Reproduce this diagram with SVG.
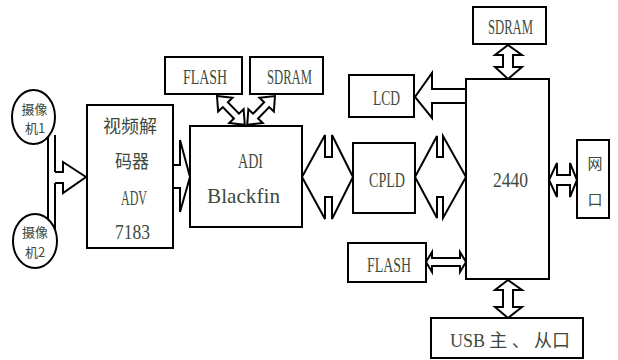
<svg xmlns="http://www.w3.org/2000/svg" width="618" height="360" viewBox="0 0 618 360">
<style>
.box{fill:#fff;stroke:#000;stroke-width:2}
.cam{fill:#fff;stroke:#000;stroke-width:2}
.ar{fill:#fff;stroke:#000;stroke-width:2;stroke-linejoin:miter}
.ln{fill:none;stroke:#000;stroke-width:2}
.lat{font-family:"Liberation Serif","DejaVu Serif",serif;font-size:21px;fill:#3d4a3d}
.cjk{font-family:"Noto Sans CJK SC","Noto Sans",sans-serif;fill:#3d4a3d}
.mix{font-family:"Liberation Serif","Noto Sans CJK SC",serif;font-size:18px;fill:#3d4a3d}
</style>
<defs>
<polygon id="dbl" points="0,0 12,-10 12,-3.5 28,-3.5 28,-10 40,0 28,10 28,3.5 12,3.5 12,10"/>
</defs>
<rect width="618" height="360" fill="#fff"/>
<g id="connectors">
<line class="ln" x1="48" y1="135" x2="48" y2="232"/>
<line class="ln" x1="55" y1="135" x2="55" y2="172"/>
<line class="ln" x1="55" y1="183" x2="55" y2="232"/>
<polyline class="ar" points="55,172 63,172 63,162 86,177 63,193 63,183 55,183"/>
<polyline class="ar" points="173,165 180,165 180,140 190,177 180,212 180,188 173,188"/>
<use href="#dbl" class="ar" transform="translate(217,96) rotate(46)"/>
<use href="#dbl" class="ar" transform="translate(275,96) rotate(134)"/>
<polygon class="ar" points="302,177 325,135 325,157 332,157 332,135 353,177 332,219 332,197 325,197 325,219"/>
<polygon class="ar" points="415,177 437,136 437,157 443,157 443,136 466,177 443,218 443,197 437,197 437,218"/>
<polyline class="ar" points="466,89 432,89 432,73 415,97 432,118 432,103 466,103"/>
<polygon class="ar" points="508,45 522,55 513,55 513,67 522,67 508,79 495,67 503,67 503,55 495,55"/>
<polygon class="ar" points="508,280 522,290 513,290 513,307 522,307 508,318 495,307 503,307 503,290 495,290"/>
<polygon class="ar" points="426,262 432,252 432,258 460,258 460,252 466,262 460,272 460,266 432,266 432,272"/>
<polygon class="ar" points="549,180 557,163 557,175 570,175 570,163 577,180 570,197 570,185 557,185 557,197"/>
</g>
<g id="cam1">
<ellipse class="cam" cx="33.5" cy="117" rx="21.5" ry="27"/>
<text class="cjk" x="34.5" y="114" font-size="13" text-anchor="middle">摄像</text>
<text class="cjk" x="35" y="133" font-size="13" text-anchor="middle">机1</text>
</g>
<g id="cam2">
<ellipse class="cam" cx="35" cy="241" rx="22" ry="27"/>
<text class="cjk" x="35" y="237" font-size="13" text-anchor="middle">摄像</text>
<text class="cjk" x="35" y="257" font-size="13" text-anchor="middle">机2</text>
</g>
<g id="decoder">
<rect class="box" x="87" y="105" width="86" height="143"/>
<text class="cjk" x="103" y="133" font-size="18" textLength="54" lengthAdjust="spacingAndGlyphs">视频解</text>
<text class="cjk" x="115" y="168" font-size="18" textLength="34" lengthAdjust="spacingAndGlyphs">码器</text>
<text class="lat" x="121" y="205" textLength="26" lengthAdjust="spacingAndGlyphs">ADV</text>
<text class="lat" x="115" y="239" textLength="35" lengthAdjust="spacingAndGlyphs">7183</text>
</g>
<g id="flash1">
<rect class="box" x="165" y="57" width="77" height="37"/>
<text class="lat" x="183" y="84" textLength="44" lengthAdjust="spacingAndGlyphs">FLASH</text>
</g>
<g id="sdram1">
<rect class="box" x="250" y="57" width="73" height="37"/>
<text class="lat" x="267" y="84" textLength="45" lengthAdjust="spacingAndGlyphs">SDRAM</text>
</g>
<g id="adi">
<rect class="box" x="190" y="126" width="112" height="101"/>
<text class="lat" x="238" y="168" textLength="25" lengthAdjust="spacingAndGlyphs">ADI</text>
<text class="lat" x="207" y="203" textLength="73" lengthAdjust="spacingAndGlyphs">Blackfin</text>
</g>
<g id="cpld">
<rect class="box" x="353" y="143" width="62" height="70"/>
<text class="lat" x="369" y="187" textLength="36" lengthAdjust="spacingAndGlyphs">CPLD</text>
</g>
<g id="lcd">
<rect class="box" x="349" y="75" width="65" height="42"/>
<text class="lat" x="373" y="105" textLength="27" lengthAdjust="spacingAndGlyphs">LCD</text>
</g>
<g id="sdram2">
<rect class="box" x="473" y="7" width="73" height="37"/>
<text class="lat" x="488" y="34" textLength="45" lengthAdjust="spacingAndGlyphs">SDRAM</text>
</g>
<g id="s2440">
<rect class="box" x="466" y="79" width="83" height="200"/>
<text class="lat" x="493" y="187" textLength="35" lengthAdjust="spacingAndGlyphs">2440</text>
</g>
<g id="flash2">
<rect class="box" x="348" y="243" width="78" height="39"/>
<text class="lat" x="367" y="272" textLength="44" lengthAdjust="spacingAndGlyphs">FLASH</text>
</g>
<g id="net">
<rect class="box" x="577" y="140" width="32" height="78"/>
<text class="cjk" x="595" y="169" font-size="15" text-anchor="middle">网</text>
<text class="cjk" x="595" y="205" font-size="15" text-anchor="middle">口</text>
</g>
<g id="usb">
<rect class="box" x="431" y="318" width="152" height="40"/>
<text class="mix" x="450" y="347" textLength="120">USB 主 、 从口</text>
</g>
</svg>
